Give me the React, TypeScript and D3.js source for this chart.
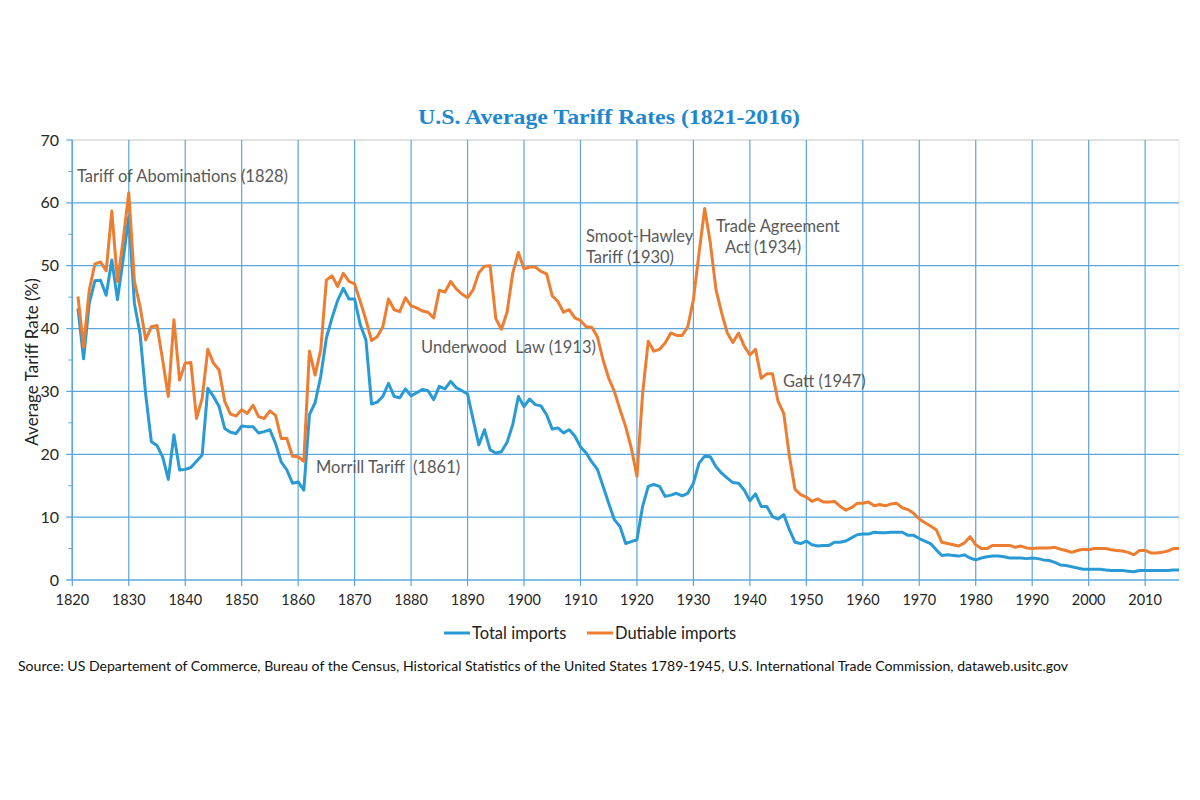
import React from "react";
import * as d3 from "d3";

const startYear = 1821;

const totalImports = [
  43.2, 35.2, 44.0, 47.6, 47.7, 45.3, 50.9, 44.6, 51.0, 57.8,
  44.0, 39.2, 29.5, 22.0, 21.4, 19.6, 16.0, 23.1, 17.5, 17.6,
  17.9, 18.9, 19.9, 30.5, 29.2, 27.6, 24.1, 23.5, 23.3, 24.5,
  24.4, 24.4, 23.4, 23.6, 23.9, 21.7, 18.8, 17.5, 15.4, 15.6,
  14.3, 26.3, 28.2, 32.4, 38.5, 41.7, 44.5, 46.4, 44.7, 44.7,
  40.6, 38.2, 28.0, 28.3, 29.2, 31.3, 29.2, 29.0, 30.4, 29.3,
  29.8, 30.3, 30.1, 28.7, 30.8, 30.4, 31.6, 30.6, 30.1, 29.6,
  25.5, 21.5, 23.9, 20.7, 20.2, 20.4, 21.9, 24.7, 29.2, 27.6,
  28.8, 27.9, 27.7, 26.3, 24.0, 24.2, 23.4, 23.9, 22.9, 21.2,
  20.2, 18.8, 17.6, 14.9, 12.2, 9.6, 8.5, 5.8, 6.1, 6.4,
  11.7, 14.9, 15.2, 14.9, 13.3, 13.5, 13.8, 13.4, 13.8, 15.4,
  18.6, 19.7, 19.6, 18.0, 17.0, 16.2, 15.5, 15.4, 14.3, 12.6,
  13.7, 11.7, 11.7, 10.1, 9.7, 10.4, 8.0, 6.0, 5.8, 6.2,
  5.6, 5.4, 5.5, 5.5, 6.0, 6.0, 6.2, 6.7, 7.2, 7.3,
  7.3, 7.6, 7.5, 7.5, 7.6, 7.6, 7.6, 7.1, 7.1, 6.6,
  6.2, 5.8, 4.8, 3.9, 4.0, 3.9, 3.8, 4.0, 3.5, 3.2,
  3.5, 3.7, 3.8, 3.8, 3.7, 3.5, 3.5, 3.5, 3.4, 3.5,
  3.4, 3.2, 3.1, 2.8, 2.4, 2.3, 2.1, 1.9, 1.7, 1.7,
  1.7, 1.7, 1.6, 1.5, 1.5, 1.5, 1.4, 1.3, 1.5, 1.5,
  1.5, 1.5, 1.5, 1.5, 1.6, 1.6,
];

const dutiableImports = [
  45.1, 37.1, 46.1, 50.3, 50.6, 49.2, 58.7, 47.5, 54.0, 61.6,
  47.5, 43.5, 38.2, 40.3, 40.5, 35.0, 29.2, 41.4, 31.8, 34.5,
  34.6, 25.7, 28.9, 36.7, 34.5, 33.4, 28.4, 26.4, 26.1, 27.1,
  26.5, 27.8, 26.0, 25.7, 26.9, 26.2, 22.5, 22.5, 19.7, 19.6,
  18.9, 36.4, 32.6, 36.6, 47.7, 48.4, 46.7, 48.8, 47.5, 47.1,
  44.3, 41.4, 38.1, 38.7, 40.3, 44.7, 43.0, 42.7, 44.9, 43.6,
  43.3, 42.8, 42.6, 41.7, 46.1, 45.8, 47.5, 46.3, 45.5, 44.9,
  46.2, 48.9, 49.9, 50.0, 41.6, 39.9, 42.6, 48.8, 52.1, 49.5,
  49.8, 49.8, 49.1, 48.7, 45.2, 44.3, 42.6, 43.0, 41.7, 41.3,
  40.3, 40.2, 38.7, 35.0, 32.1, 30.0, 27.1, 24.4, 21.0, 16.5,
  29.6, 38.0, 36.4, 36.7, 37.7, 39.3, 38.9, 38.9, 40.3, 44.6,
  52.0, 59.1, 53.6, 46.2, 42.5, 39.3, 37.8, 39.3, 37.2, 35.8,
  36.7, 32.1, 32.8, 32.8, 28.4, 26.5, 19.7, 14.4, 13.6, 13.2,
  12.5, 12.9, 12.4, 12.4, 12.5, 11.7, 11.1, 11.5, 12.2, 12.2,
  12.4, 11.8, 12.0, 11.8, 12.1, 12.2, 11.5, 11.2, 10.6, 9.7,
  9.1, 8.6, 8.0, 6.0, 5.8, 5.6, 5.4, 5.9, 6.9, 5.6,
  5.0, 5.0, 5.5, 5.5, 5.5, 5.5, 5.2, 5.4, 5.1, 5.0,
  5.1, 5.1, 5.1, 5.2, 4.9, 4.7, 4.4, 4.7, 4.9, 4.8,
  5.0, 5.0, 5.0, 4.8, 4.7, 4.6, 4.4, 4.0, 4.7, 4.7,
  4.3, 4.3, 4.4, 4.6, 5.0, 5.0,
];

const xTicks = [1820, 1830, 1840, 1850, 1860, 1870, 1880, 1890, 1900, 1910, 1920, 1930, 1940, 1950, 1960, 1970, 1980, 1990, 2000, 2010];
const yTicks = [0, 10, 20, 30, 40, 50, 60, 70];
const yMinorTicks = [5, 15, 25, 35, 45, 55, 65];

const annotations = [
  { lines: ["Tariff of Abominations (1828)"], xs: [77], y: 182 },
  { lines: ["Morrill Tariff  (1861)"], xs: [316], y: 473 },
  { lines: ["Underwood  Law (1913)"], xs: [421], y: 353 },
  { lines: ["Smoot-Hawley", "Tariff (1930)"], xs: [586, 586], y: 242 },
  { lines: ["Trade Agreement", "Act (1934)"], xs: [716, 725], y: 232 },
  { lines: ["Gatt (1947)"], xs: [783], y: 387 },
];

const seriesList = [
  { name: "Total imports", values: totalImports, color: "#2A9AD5" },
  { name: "Dutiable imports", values: dutiableImports, color: "#ED7D31" },
];

const title = "U.S. Average Tariff Rates (1821-2016)";
const yLabel = "Average Tariff Rate (%)";
const source =
  "Source: US Departement of Commerce, Bureau of the Census, Historical Statistics of the United States 1789-1945, U.S. International Trade Commission, dataweb.usitc.gov";

export default function App() {
  const left = 72.3;
  const right = 1179;
  const top = 140;
  const bottom = 580;
  const x = d3.scaleLinear().domain([1820, 2016]).range([left, right]);
  const y = d3.scaleLinear().domain([0, 70]).range([bottom, top]);
  const gridColor = "#5AA6DD";
  const font = "Lato, 'Open Sans', sans-serif";

  const line = d3
    .line<number>()
    .x((_, i) => x(startYear + i))
    .y((d) => y(d));

  return (
    <div style={{ position: "absolute", left: 0, top: 0 }}>
      <svg width={1200} height={800} style={{ display: "block", background: "#fff" }}>
        <text
          x={418}
          y={124}
          fontFamily="'Liberation Serif', 'DejaVu Serif', serif"
          fontWeight="bold"
          fontSize={21.5}
          fill="#1E88CF"
          textLength={382}
          lengthAdjust="spacingAndGlyphs"
        >
          {title}
        </text>

        {/* plot border (top/right) */}
        <line x1={left} x2={right} y1={top} y2={top} stroke="#D9D9D9" strokeWidth={1.5} />
        <line x1={right} x2={right} y1={top} y2={bottom} stroke="#E6E6E6" strokeWidth={1} />

        {/* horizontal gridlines */}
        {yTicks.filter((t) => t > 0 && t < 70).map((t) => (
          <line key={"hg" + t} x1={left - 6} x2={right} y1={y(t)} y2={y(t)} stroke={gridColor} strokeWidth={1.2} />
        ))}
        <line x1={left - 6} x2={left} y1={y(70)} y2={y(70)} stroke={gridColor} strokeWidth={1.2} />
        {yMinorTicks.map((t) => (
          <line key={"mt" + t} x1={left - 4} x2={left} y1={y(t)} y2={y(t)} stroke={gridColor} strokeWidth={1} />
        ))}

        {/* vertical gridlines */}
        {xTicks.map((t) => (
          <line key={"vg" + t} x1={x(t)} x2={x(t)} y1={top} y2={bottom + 6} stroke={gridColor} strokeWidth={1.2} />
        ))}

        {/* axes */}
        <line x1={left} x2={left} y1={top} y2={bottom} stroke={gridColor} strokeWidth={1.5} />
        <line x1={left - 6} x2={right} y1={bottom} y2={bottom} stroke={gridColor} strokeWidth={1.5} />

        {/* y tick labels */}
        {yTicks.map((t) => (
          <text key={"yl" + t} x={59} y={y(t) + 5.5} textAnchor="end" fontFamily={font} fontSize={16} fill="#262626">
            {t}
          </text>
        ))}
        {/* x tick labels */}
        {xTicks.map((t) => (
          <text key={"xl" + t} x={x(t)} y={605} textAnchor="middle" fontFamily={font} fontSize={14.5} fill="#262626">
            {t}
          </text>
        ))}

        <text
          transform={`translate(38, 362) rotate(-90)`}
          textAnchor="middle"
          fontFamily={font}
          fontSize={17}
          fill="#222"
        >
          {yLabel}
        </text>

        {/* series */}
        {seriesList.map((s) => (
          <path
            key={s.name}
            d={line(s.values) || ""}
            fill="none"
            stroke={s.color}
            strokeWidth={3}
            strokeLinejoin="round"
          />
        ))}

        {/* annotations */}
        {annotations.map((a, i) => (
          <text key={"an" + i} y={a.y} fontFamily={font} fontSize={16.5} fill="#595959" style={{ whiteSpace: "pre" }}>
            {a.lines.map((l, j) => (
              <tspan key={j} x={a.xs[j]} dy={j === 0 ? 0 : 21}>
                {l}
              </tspan>
            ))}
          </text>
        ))}

        {/* legend */}
        <line x1={444} x2={470} y1={633} y2={633} stroke={seriesList[0].color} strokeWidth={3} />
        <text x={472} y={639} fontFamily={font} fontSize={16.5} fill="#222">
          {seriesList[0].name}
        </text>
        <line x1={587} x2={613} y1={633} y2={633} stroke={seriesList[1].color} strokeWidth={3} />
        <text x={615} y={639} fontFamily={font} fontSize={16.5} fill="#222">
          {seriesList[1].name}
        </text>

        {/* source */}
        <text
          x={18}
          y={671}
          fontFamily={font}
          fontSize={13.5}
          fill="#111"
          textLength={1050}
          lengthAdjust="spacingAndGlyphs"
        >
          {source}
        </text>
      </svg>
    </div>
  );
}
